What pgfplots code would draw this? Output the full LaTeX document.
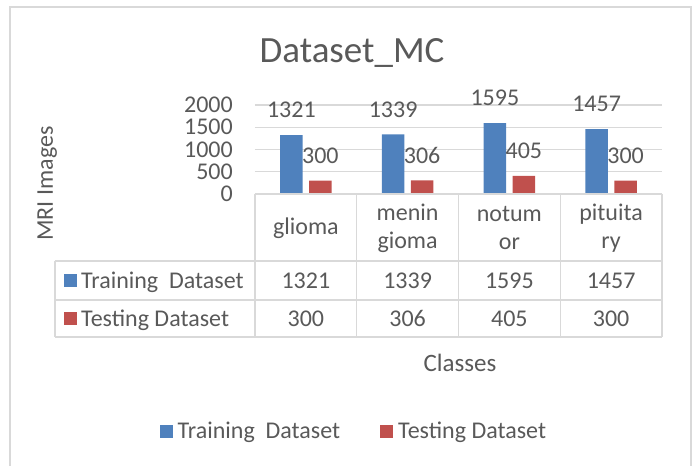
\documentclass[border=0pt]{standalone}
\usepackage{fontspec}
\setmainfont{Carlito}
\usepackage{pgfplots}
\pgfplotsset{compat=1.18}
\definecolor{txt}{HTML}{595959}
\definecolor{grd}{HTML}{D9D9D9}
\definecolor{cblue}{HTML}{4F81BD}
\definecolor{cred}{HTML}{C0504D}
\newcommand{\fs}{\fontsize{24}{28}\selectfont}
\pgfplotsset{/pgf/number format/1000 sep={}, /pgf/number format/assume math mode=true}

\begin{document}
\begin{tikzpicture}
\begin{axis}[
  name=ax,
  width=407pt, height=89pt, scale only axis,
  xmin=-0.5, xmax=3.5, ymin=0, ymax=2000,
  ytick={0,500,...,2000}, xtick=\empty,
  ymajorgrids, grid style={grd, line width=1.3pt},
  axis line style={draw=none},
  major tick length=0pt,
  yticklabel style={font=\fs, text=txt, inner sep=0pt, anchor=east, xshift=-22pt},
  ybar=6.5pt, bar width=22.5pt,
  clip=false,
  nodes near coords,
  nodes near coords style={font=\fs, text=txt, anchor=center, yshift=25pt},
  legend image code/.code={\fill[#1, draw=none] (0pt,-6.5pt) rectangle (13pt,6.5pt);},
  legend style={at={(0.243,-2.663)}, anchor=center, draw=none, fill=none,
    font=\fs, text=txt, legend columns=2,
    /tikz/every odd column/.append style={column sep=3pt},
    /tikz/every even column/.append style={column sep=38pt}},
]
\addplot[fill=cblue, draw=none] coordinates {(0,1321) (1,1339) (2,1595) (3,1457)};
\addplot[fill=cred, draw=none] coordinates {(0,300) (1,306) (2,405) (3,300)};
\legend{Training\ \ Dataset, Testing Dataset}
\end{axis}

\begin{scope}[shift={(ax.south west)}, xshift=-255pt, yshift=-272pt, x=1pt, y=1pt]
% chart frame
\draw[grd, line width=1.5pt] (10,-5) -- (10,459) -- (691,459) -- (691,-5);

% data table
\begin{scope}[grd, line width=1.3pt]
\draw (255,272) -- (662,272);
\draw (55,205) -- (662,205);
\draw (55,166) -- (662,166);
\draw (55,129) -- (662,129);
\draw (55,205) -- (55,129);
\foreach \xx in {255,356.75,458.5,560.25,662} \draw (\xx,272) -- (\xx,129);
\end{scope}

\begin{scope}[every node/.style={font=\fs, text=txt, inner sep=0pt}]
\node at (305.9,238) {glioma};
\node[align=center] at (407.6,238) {menin\\gioma};
\node[align=center] at (509.4,238) {notum\\or};
\node[align=center] at (611.1,238) {pituita\\ry};
\node[anchor=base] at (305.9,178) {1321};
\node[anchor=base] at (407.6,178) {1339};
\node[anchor=base] at (509.4,178) {1595};
\node[anchor=base] at (611.1,178) {1457};
\node[anchor=base] at (305.9,140) {300};
\node[anchor=base] at (407.6,140) {306};
\node[anchor=base] at (509.4,140) {405};
\node[anchor=base] at (611.1,140) {300};
\node[anchor=base west] at (81,178) {Training\ \ Dataset};
\node[anchor=base west] at (81,140) {Testing Dataset};
\end{scope}
\fill[cblue] (64,179) rectangle (77,192);
\fill[cred] (64,141) rectangle (77,154);

% titles
\node[font=\fontsize{37}{42}\selectfont, text=txt, anchor=base] at (352,403.3) {Dataset\_MC};
\node[font=\fontsize{25}{30}\selectfont, text=txt, anchor=base] at (460,95) {Classes};
\node[font=\fontsize{24}{28}\selectfont, text=txt, rotate=90, anchor=base] at (53,282.5) {MRI Images};

\pgfresetboundingbox
\path[use as bounding box] (0,0) rectangle (697,466);
\end{scope}
\end{tikzpicture}
\end{document}
